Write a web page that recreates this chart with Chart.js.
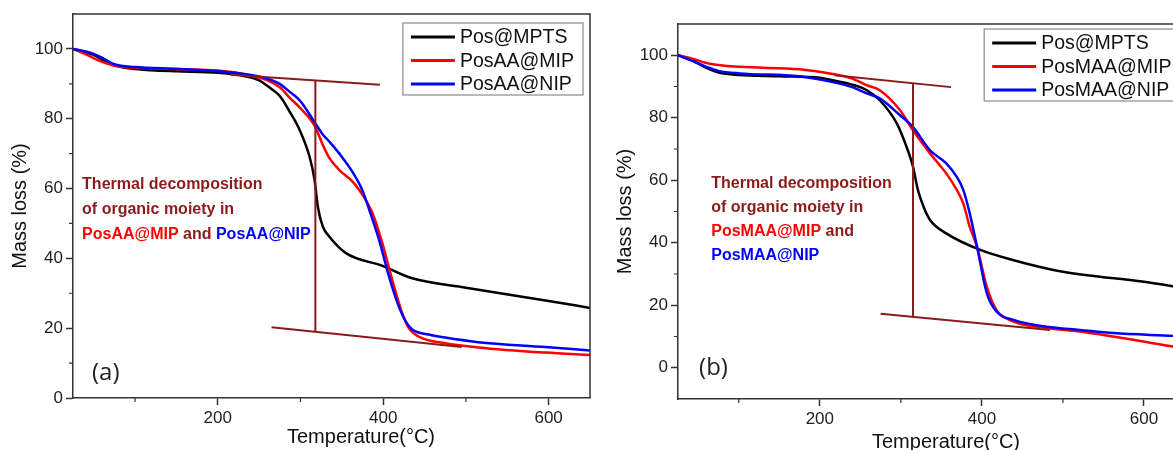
<!DOCTYPE html>
<html>
<head>
<meta charset="utf-8">
<title>TGA curves</title>
<script src="https://cdn.jsdelivr.net/npm/chart.js@4.4.1/dist/chart.umd.min.js"></script>
<style>
  html, body { margin: 0; padding: 0; background: #fff; }
  #page { position: relative; width: 1173px; height: 450px; overflow: hidden; background: #fff; }
  .panel { position: absolute; top: 0; width: 600px; height: 450px; }
</style>
</head>
<body>
<div id="page">
  <div class="panel" style="left:0"><canvas id="chartA" width="600" height="450"></canvas></div>
  <div class="panel" style="left:600px"><canvas id="chartB" width="600" height="450"></canvas></div>
</div>
<script>
// ---- Panel (a) data ----
const tempA_mpts = [25, 40, 50, 60, 75, 90, 120, 150, 200, 226, 250, 265, 275, 287, 299, 311, 317, 321, 327, 335, 355, 400, 435, 500, 600, 650];
const massA_mpts = [100, 99, 98.3, 97, 95.3, 94.5, 93.9, 93.6, 93.2, 92.5, 91, 88.5, 86.5, 82, 76.8, 69.1, 62.5, 54.8, 49.1, 46.2, 41.5, 37.8, 34.3, 31.6, 27.8, 25.8];

const tempA_mip = [25, 40, 60, 75, 100, 150, 200, 240, 260, 275, 287, 300, 317, 327, 335, 347, 363, 375, 387, 399, 411, 423, 431, 443, 475, 515, 596, 650];
const massA_mip = [100, 98.5, 96.3, 95.2, 94.6, 94.2, 93.8, 92.4, 91, 89, 86, 83, 78, 72.5, 68.7, 65.3, 62, 58.2, 53, 44.3, 33.8, 24.3, 20, 17.6, 15.7, 14.5, 13, 12.3];

const tempA_nip = [25, 45, 60, 75, 100, 150, 200, 240, 260, 275, 287, 300, 317, 327, 335, 347, 363, 375, 383, 395, 407, 419, 427, 435, 455, 475, 515, 596, 650];
const massA_nip = [100, 99, 97.5, 95.6, 94.8, 94.3, 93.6, 92.5, 91.5, 90, 87.7, 85, 79, 75.5, 73.4, 70, 64.7, 59.4, 54, 45.3, 34.8, 26.1, 22, 19.6, 18.2, 17.3, 16, 14.6, 13.6];

// tangent / onset guides, panel (a)
const guideA_upperX = [215, 396];
const guideA_upperY = [92.6, 89.7];
const guideA_vertX = [318, 318];
const guideA_vertY = [91.1, 18.9];
const guideA_lowerX = [265, 495];
const guideA_lowerY = [20.3, 14.6];

// ---- Panel (b) data ----
const tempB_mpts = [25, 45, 60, 75, 100, 150, 200, 216, 240, 258, 274, 295, 307, 315, 321, 328, 336, 356, 398, 438, 500, 600, 650];
const massB_mpts = [100, 98, 96, 94.5, 93.7, 93.3, 92.8, 92, 90.6, 88.8, 85.6, 78.2, 70.7, 64.3, 56.9, 51.5, 47.3, 43, 37.7, 34.5, 30.7, 27.5, 25.5];

const tempB_mip = [25, 45, 64, 101, 175, 216, 240, 258, 274, 299, 315, 336, 356, 369, 377, 385, 394, 406, 418, 439, 480, 521, 562, 599, 636, 650];
const massB_mip = [100, 98.7, 97.3, 96.3, 95.5, 94, 92.5, 90.4, 88.8, 82.4, 76, 68.6, 62.2, 56.9, 52.6, 45.1, 38.7, 26, 18.5, 14.8, 12.7, 11.6, 10, 8.4, 6.8, 6.3];

const tempB_nip = [25, 45, 60, 75, 101, 175, 216, 240, 258, 274, 299, 315, 336, 356, 369, 377, 385, 394, 406, 418, 439, 480, 521, 562, 636, 650];
const massB_nip = [100, 98, 96.3, 95, 94.2, 93.3, 91.4, 89.8, 87.8, 86.2, 80.8, 77, 69.6, 65.4, 61.1, 56.9, 49.4, 38.7, 23.9, 18, 15.3, 13.1, 12.1, 11.1, 10.2, 10];

// tangent / onset guides, panel (b)
const guideB_upperX = [218, 362];
const guideB_upperY = [93.6, 89.8];
const guideB_vertX = [315, 315];
const guideB_vertY = [91.1, 16.4];
const guideB_lowerX = [275, 484];
const guideB_lowerY = [17.3, 12.1];

// ---- axis ticks ----
const xLabelTicks = [200, 400, 600];
const yLabelTicks = [0, 20, 40, 60, 80, 100];

const BROWN = "#8b1a1a";
const RED = "#ff0000";
const BLUE = "#0000ff";
const BLACK = "#000000";
const AXIS_COLOR = "#333333";
const FONT = "Arial, 'Liberation Sans', sans-serif";

Chart.defaults.font.family = FONT;

function toPoints(xs, ys) {
  return xs.map((x, i) => ({ x: x, y: ys[i] }));
}

function curve(label, color, xs, ys, order) {
  return {
    label: label,
    data: toPoints(xs, ys),
    borderColor: color,
    backgroundColor: color,
    borderWidth: 2.5,
    pointRadius: 0,
    cubicInterpolationMode: "monotone",
    fill: false,
    order: order,
  };
}

function guide(xs, ys) {
  return {
    label: "guide",
    isGuide: true,
    data: toPoints(xs, ys),
    borderColor: BROWN,
    borderWidth: 2,
    pointRadius: 0,
    tension: 0,
    fill: false,
    order: 0,
  };
}

// frame, minor ticks, legend, notes, panel label, x title
const decorPlugin = {
  id: "decor",
  afterDraw(chart, args, opts) {
    const { ctx, chartArea: area, scales } = chart;
    const xs = scales.x;
    const ys = scales.y;
    ctx.save();

    // top + right frame
    ctx.strokeStyle = AXIS_COLOR;
    ctx.lineWidth = 1.5;
    ctx.beginPath();
    ctx.moveTo(area.left, area.top);
    ctx.lineTo(area.right, area.top);
    ctx.lineTo(area.right, area.bottom);
    ctx.stroke();

    // minor ticks
    ctx.lineWidth = 1.2;
    ctx.beginPath();
    xs.ticks.forEach((t) => {
      if (xLabelTicks.includes(t.value)) return;
      const px = xs.getPixelForValue(t.value);
      ctx.moveTo(px, area.bottom);
      ctx.lineTo(px, area.bottom + 4);
    });
    ys.ticks.forEach((t) => {
      if (yLabelTicks.includes(t.value)) return;
      if (t.value <= ys.min || t.value >= ys.max) return;
      const py = ys.getPixelForValue(t.value);
      ctx.moveTo(area.left - 4, py);
      ctx.lineTo(area.left, py);
    });
    ctx.stroke();

    // legend box
    const items = chart.data.datasets.filter((d) => !d.isGuide);
    ctx.font = "19.5px " + FONT;
    const textW = Math.max(...items.map((d) => ctx.measureText(d.label).width));
    const boxW = 8 + 44 + 5 + textW + 9;
    const boxH = 72;
    const bx = area.right - opts.legendRight - boxW;
    const by = area.top + opts.legendTop;
    ctx.fillStyle = "#ffffff";
    ctx.fillRect(bx, by, boxW, boxH);
    ctx.strokeStyle = "#8a8a8a";
    ctx.lineWidth = 1.2;
    ctx.strokeRect(bx, by, boxW, boxH);
    ctx.textBaseline = "middle";
    ctx.textAlign = "left";
    items.forEach((d, i) => {
      const cy = by + 14 + i * 23.5;
      ctx.strokeStyle = d.borderColor;
      ctx.lineWidth = 3;
      ctx.beginPath();
      ctx.moveTo(bx + 8, cy);
      ctx.lineTo(bx + 52, cy);
      ctx.stroke();
      ctx.fillStyle = "#111111";
      ctx.fillText(d.label, bx + 57, cy + 1);
    });

    // annotation text
    ctx.font = "bold 16px " + FONT;
    const nx = xs.getPixelForValue(opts.note.x);
    const ny = ys.getPixelForValue(opts.note.y);
    opts.note.lines.forEach((line, i) => {
      let cx = nx;
      line.forEach((seg) => {
        ctx.fillStyle = seg.color;
        ctx.fillText(seg.text, cx, ny + i * opts.note.gap);
        cx += ctx.measureText(seg.text).width;
      });
    });

    // panel label
    ctx.font = "24px 'Open Sans', " + FONT;
    ctx.fillStyle = "#222222";
    ctx.fillText(opts.tag.text, xs.getPixelForValue(opts.tag.x), ys.getPixelForValue(opts.tag.y));

    // x axis title
    ctx.font = "20px " + FONT;
    ctx.textAlign = "center";
    ctx.fillStyle = "#111111";
    ctx.fillText("Temperature(\u00B0C)", opts.xTitle.x, opts.xTitle.y);

    ctx.restore();
  },
};

function makeChart(canvasId, cfg) {
  const ctx = document.getElementById(canvasId).getContext("2d");
  return new Chart(ctx, {
    type: "line",
    data: { datasets: cfg.datasets },
    options: {
      responsive: false,
      animation: false,
      events: [],
      layout: { padding: { top: cfg.padTop, right: cfg.padRight, left: 0, bottom: 0 } },
      plugins: {
        legend: { display: false },
        tooltip: { enabled: false },
        decor: cfg.decor,
      },
      scales: {
        x: {
          type: "linear",
          min: 25,
          max: 650,
          border: { display: true, color: AXIS_COLOR, width: 1.5 },
          grid: {
            drawOnChartArea: false,
            tickLength: 7,
            tickWidth: 1.5,
            tickColor: (c) => (c.tick && xLabelTicks.includes(c.tick.value) ? AXIS_COLOR : "rgba(0,0,0,0)"),
          },
          ticks: {
            stepSize: 100,
            includeBounds: false,
            autoSkip: false,
            maxRotation: 0,
            padding: 3,
            color: "#222222",
            font: { size: 17 },
            callback: (v) => (xLabelTicks.includes(v) ? v : ""),
          },
          afterFit: (scale) => {
            scale.height = cfg.xAxisHeight;
          },
        },
        y: {
          min: cfg.yMin,
          max: 110,
          border: { display: true, color: AXIS_COLOR, width: 1.5 },
          grid: {
            drawOnChartArea: false,
            tickLength: 7,
            tickWidth: 1.5,
            tickColor: (c) => (c.tick && yLabelTicks.includes(c.tick.value) ? AXIS_COLOR : "rgba(0,0,0,0)"),
          },
          ticks: {
            stepSize: 10,
            autoSkip: false,
            padding: 3,
            color: "#222222",
            font: { size: 17 },
            callback: (v) => (yLabelTicks.includes(v) ? v : ""),
          },
          title: {
            display: true,
            text: "Mass loss (%)",
            color: "#111111",
            font: { size: 20 },
            padding: { top: cfg.yTitlePad, bottom: 0 },
          },
          afterFit: (scale) => {
            scale.width = cfg.yAxisWidth;
          },
        },
      },
    },
    plugins: [decorPlugin],
  });
}

makeChart("chartA", {
  datasets: [
    curve("Pos@MPTS", BLACK, tempA_mpts, massA_mpts, 3),
    curve("PosAA@MIP", RED, tempA_mip, massA_mip, 2),
    curve("PosAA@NIP", BLUE, tempA_nip, massA_nip, 1),
    guide(guideA_upperX, guideA_upperY),
    guide(guideA_vertX, guideA_vertY),
    guide(guideA_lowerX, guideA_lowerY),
  ],
  padTop: 14,
  padRight: 10,
  yMin: 0,
  xAxisHeight: 52,
  yAxisWidth: 73,
  yTitlePad: 8,
  decor: {
    legendRight: 7,
    legendTop: 9,
    note: {
      x: 36,
      y: 61,
      gap: 25,
      lines: [
        [{ text: "Thermal decomposition", color: BROWN }],
        [{ text: "of organic moiety in", color: BROWN }],
        [
          { text: "PosAA@MIP", color: RED },
          { text: " and ", color: BROWN },
          { text: "PosAA@NIP", color: BLUE },
        ],
      ],
    },
    tag: { text: "(a)", x: 48, y: 7 },
    xTitle: { x: 361, y: 437 },
  },
});

makeChart("chartB", {
  datasets: [
    curve("Pos@MPTS", BLACK, tempB_mpts, massB_mpts, 3),
    curve("PosMAA@MIP", RED, tempB_mip, massB_mip, 2),
    curve("PosMAA@NIP", BLUE, tempB_nip, massB_nip, 1),
    guide(guideB_upperX, guideB_upperY),
    guide(guideB_vertX, guideB_vertY),
    guide(guideB_lowerX, guideB_lowerY),
  ],
  padTop: 24,
  padRight: 15.5,
  yMin: -10,
  xAxisHeight: 51,
  yAxisWidth: 78,
  yTitlePad: 13,
  decor: {
    legendRight: 4,
    legendTop: 5,
    note: {
      x: 66,
      y: 59,
      gap: 24,
      lines: [
        [{ text: "Thermal decomposition", color: BROWN }],
        [{ text: "of organic moiety in", color: BROWN }],
        [
          { text: "PosMAA@MIP", color: RED },
          { text: " and", color: BROWN },
        ],
        [{ text: "PosMAA@NIP", color: BLUE }],
      ],
    },
    tag: { text: "(b)", x: 51, y: 0 },
    xTitle: { x: 346, y: 442 },
  },
});
</script>
</body>
</html>
